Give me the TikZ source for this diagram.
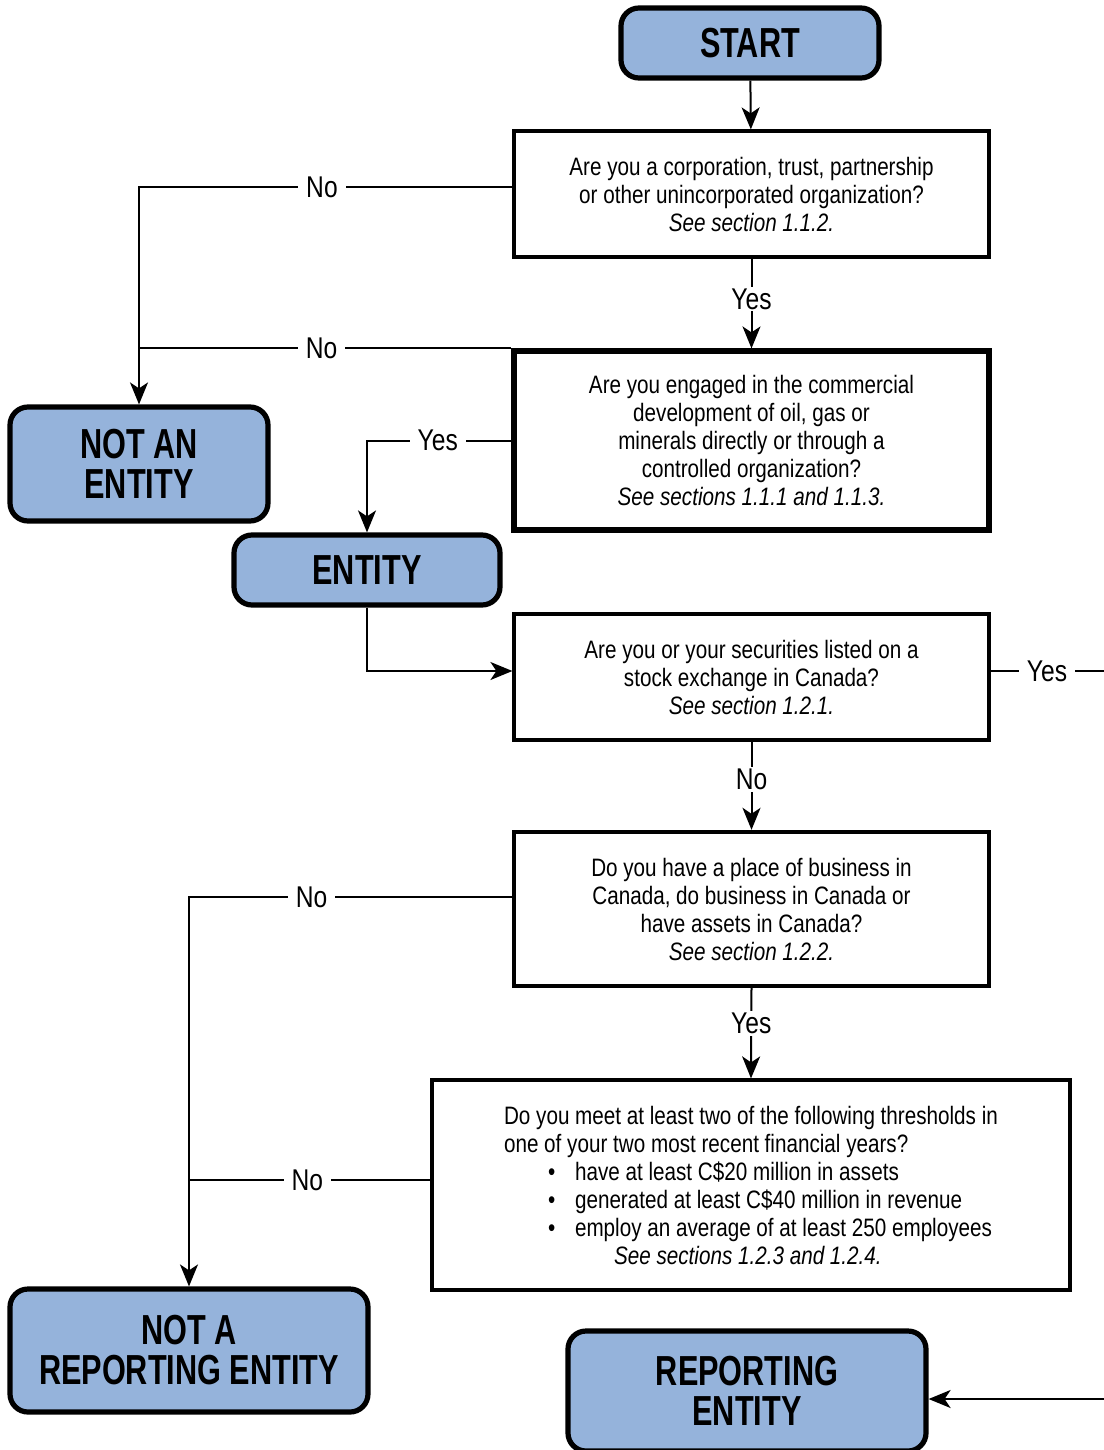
\documentclass[tikz,border=0pt]{standalone}
\usepackage{fontspec}
\setmainfont{Liberation Sans}[FakeStretch=0.82]
\newfontfamily\termfont{Liberation Sans}[FakeStretch=0.73]
\usepackage{xcolor}
\usetikzlibrary{arrows.meta,positioning,calc}
\definecolor{termblue}{HTML}{95B3DB}

\begin{document}
\begin{tikzpicture}[
    x=0.5pt, y=-0.5pt,
    termbox/.style={rectangle, rounded corners=9pt, draw, line width=2.6pt, fill=termblue,
        align=center, font=\termfont\fontsize{21}{20}\selectfont\bfseries, inner sep=0pt},
    askbox/.style={rectangle, draw, line width=1.6pt, align=center,
        minimum width=237.5pt, font=\fontsize{12.6}{14}\selectfont, inner sep=0pt},
    arrow/.style={-{Stealth[length=11pt,width=9pt,inset=3pt]}, line width=1pt},
    link/.style={line width=1pt},
    lbl/.style={fill=white, inner xsep=4pt, inner ysep=1pt, font=\fontsize{15}{18}\selectfont}
]
    \useasboundingbox (0,0) rectangle (1103,1450);

    % end boxes
    \node[termbox, minimum width=129pt, minimum height=35pt] (start) at (750,43) {START};
    \node[termbox, minimum width=129pt, minimum height=57pt] (notent) at (139,464) {NOT AN\\ENTITY};
    \node[termbox, minimum width=133pt, minimum height=35pt] (entity) at (367,570) {ENTITY};
    \node[termbox, minimum width=179pt, minimum height=61.5pt] (notrep) at (189,1350.5) {NOT A\\REPORTING ENTITY};
    \node[termbox, minimum width=179pt, minimum height=60pt] (rep) at (747,1391) {REPORTING\\ENTITY};

    % questions
    \node[askbox, minimum height=63pt] (q1) at (751.5,194)
        {Are you a corporation, trust, partnership\\ or other unincorporated organization?\\ \textit{See section 1.1.2.}};
    \node[askbox, line width=2.6pt, minimum height=89.5pt] (q2) at (751.5,440.5)
        {Are you engaged in the commercial\\ development of oil, gas or\\ minerals directly or through a\\ controlled organization?\\ \textit{See sections 1.1.1 and 1.1.3.}};
    \node[askbox, minimum height=63pt] (q3) at (751.5,677)
        {Are you or your securities listed on a\\ stock exchange in Canada?\\ \textit{See section 1.2.1.}};
    \node[askbox, line width=2.2pt, minimum height=77pt] (q4) at (751.5,909)
        {Do you have a place of business in\\ Canada, do business in Canada or\\ have assets in Canada?\\ \textit{See section 1.2.2.}};
    \node[askbox, align=left, minimum width=319pt, minimum height=105pt] (q5) at (751,1185)
        {Do you meet at least two of the following thresholds in\\
         one of your two most recent financial years?\\
         \hspace*{22pt}\makebox[13.5pt][l]{\textbullet}have at least C\$20 million in assets\\
         \hspace*{22pt}\makebox[13.5pt][l]{\textbullet}generated at least C\$40 million in revenue\\
         \hspace*{22pt}\makebox[13.5pt][l]{\textbullet}employ an average of at least 250 employees\\
         \hspace*{55pt}\textit{See sections 1.2.3 and 1.2.4.}};

    % free ends of the loop past the right edge
    \coordinate (offtop) at (1125,671);
    \coordinate (offbot) at (1125,1399);

    \draw[arrow] (start) -- (q1);
    \draw[arrow] (q1.south) -- node[lbl, pos=0.45]{Yes} (q2.north);
    \draw[arrow] ([yshift=3.5pt]q1.west) -- node[lbl, pos=0.51]{No} ([yshift=3.5pt]q1.west -| notent.north) -- (notent.north);
    \draw[link] (q2.north west) -- node[lbl, pos=0.51]{No} (q2.north west -| notent.north);
    \draw[arrow] (q2.west) -- node[lbl, pos=0.51]{Yes} (q2.west -| entity.north) -- (entity.north);
    \draw[arrow] (entity.south) |- ([yshift=3pt]q3.west);
    \draw[arrow] (q3.south) -- node[lbl, pos=0.43]{No} (q4.north);
    \draw[link] ([yshift=3pt]q3.east) -- node[lbl, pos=0.42]{Yes} (offtop);
    \draw[arrow] (offtop) -- (offbot) -- ([yshift=-4pt]rep.east);
    \draw[arrow] ([yshift=6pt]q4.west) -- node[lbl, pos=0.62]{No} ([yshift=6pt]q4.west -| notrep.north) -- (notrep.north);
    \draw[arrow] (q4.south) -- node[lbl, pos=0.39]{Yes} (q5.north);
    \draw[link] ([yshift=2.5pt]q5.west) -- node[lbl, pos=0.51]{No} ([yshift=2.5pt]q5.west -| notrep.north);
\end{tikzpicture}
\end{document}
